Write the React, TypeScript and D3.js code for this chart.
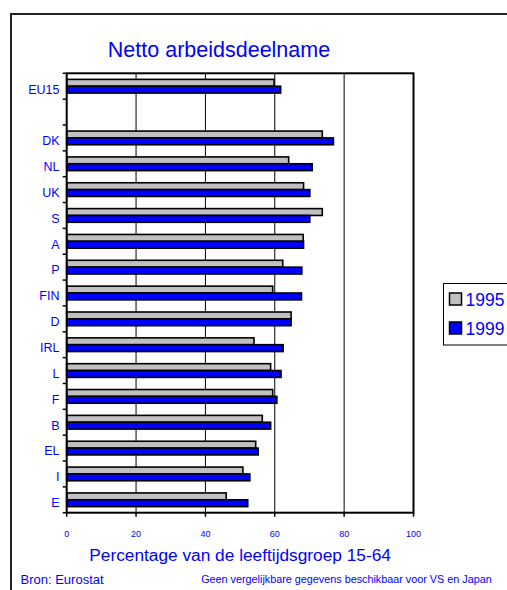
import React, { useRef, useEffect } from "react";
import * as d3 from "d3";

const categories = ["EU15", "", "DK", "NL", "UK", "S", "A", "P", "FIN", "D", "IRL", "L", "F", "B", "EL", "I", "E"];
const values1995 = [59.8, null, 73.7, 64.0, 68.3, 73.7, 68.2, 62.3, 59.4, 64.7, 54.0, 58.8, 59.4, 56.4, 54.5, 50.8, 46.0];
const values1999 = [61.7, null, 76.9, 70.8, 70.1, 70.1, 68.3, 67.8, 67.7, 64.7, 62.4, 61.8, 60.6, 58.8, 55.2, 52.8, 52.2];
const seriesNames = ["1995", "1999"];
const seriesColors = ["#c0c0c0", "#0000ff"];
const xTicks = [0, 20, 40, 60, 80, 100];

export default function App() {
  const svgRef = useRef<SVGSVGElement>(null);

  useEffect(() => {
    if (!svgRef.current) return;
    const svg = d3.select(svgRef.current);
    svg.selectAll("*").remove();

    const width = 507;
    const height = 590;
    const plot = { left: 66.7, right: 413.5, top: 73.3, bottom: 512.7 };
    const font = "'Liberation Sans', Arial, sans-serif";
    const blue = "#0000ff";

    svg.append("rect").attr("width", width).attr("height", height).attr("fill", "#fff");

    // outer chart frame, runs past the window edge
    svg.append("rect")
      .attr("x", 11).attr("y", 14)
      .attr("width", 600).attr("height", 600)
      .attr("fill", "none").attr("stroke", "#222").attr("stroke-width", 2);

    const x = d3.scaleLinear().domain([0, 100]).range([plot.left, plot.right]);
    const y = d3.scaleBand<string>()
      .domain(categories)
      .range([plot.top, plot.bottom])
      .paddingInner(0.47)
      .paddingOuter(0.235);
    const ys = d3.scaleBand<string>().domain(seriesNames).range([0, y.bandwidth()]);

    // gridlines
    svg.append("g").selectAll("line")
      .data(xTicks.slice(1, -1))
      .enter().append("line")
      .attr("x1", d => x(d)).attr("x2", d => x(d))
      .attr("y1", plot.top).attr("y2", plot.bottom)
      .attr("stroke", "#000").attr("stroke-width", 1);

    // bars
    const series = [values1995, values1999];
    const bars = svg.append("g");
    categories.forEach((cat, i) => {
      series.forEach((vals, s) => {
        const v = vals[i];
        if (v == null) return;
        bars.append("rect")
          .attr("x", x(0))
          .attr("y", (y(cat) as number) + (ys(seriesNames[s]) as number))
          .attr("width", x(v) - x(0))
          .attr("height", ys.bandwidth())
          .attr("fill", seriesColors[s])
          .attr("stroke", "#000")
          .attr("stroke-width", 1.6);
      });
    });

    // plot border
    svg.append("rect")
      .attr("x", plot.left).attr("y", plot.top)
      .attr("width", plot.right - plot.left).attr("height", plot.bottom - plot.top)
      .attr("fill", "none").attr("stroke", "#000").attr("stroke-width", 2);

    // y tick marks at category boundaries
    svg.append("g").selectAll("line")
      .data(d3.range(categories.length + 1))
      .enter().append("line")
      .attr("x1", plot.left - 4).attr("x2", plot.left)
      .attr("y1", d => plot.top + d * y.step())
      .attr("y2", d => plot.top + d * y.step())
      .attr("stroke", "#000").attr("stroke-width", 1.5);

    // x tick marks
    svg.append("g").selectAll("line")
      .data(xTicks)
      .enter().append("line")
      .attr("x1", d => x(d)).attr("x2", d => x(d))
      .attr("y1", plot.bottom).attr("y2", plot.bottom + 4)
      .attr("stroke", "#000").attr("stroke-width", 1.5);

    // x tick labels
    svg.append("g").selectAll("text")
      .data(xTicks)
      .enter().append("text")
      .attr("x", d => x(d)).attr("y", 537.3)
      .attr("text-anchor", "middle")
      .attr("font-family", font).attr("font-size", 9)
      .attr("fill", blue)
      .text(d => d);

    // category labels
    svg.append("g").selectAll("text")
      .data(categories)
      .enter().append("text")
      .attr("x", 59.5)
      .attr("y", d => (y(d) as number) + y.bandwidth() / 2 + 7.3)
      .attr("text-anchor", "end")
      .attr("font-family", font).attr("font-size", 12.5)
      .attr("fill", blue)
      .text(d => d);

    // titles
    svg.append("text")
      .attr("x", 219).attr("y", 57.3)
      .attr("text-anchor", "middle")
      .attr("font-family", font).attr("font-size", 21.5)
      .attr("fill", blue)
      .text("Netto arbeidsdeelname");

    svg.append("text")
      .attr("x", (plot.left + plot.right) / 2).attr("y", 560.7)
      .attr("text-anchor", "middle")
      .attr("font-family", font).attr("font-size", 17.3)
      .attr("fill", blue)
      .text("Percentage van de leeftijdsgroep 15-64");

    svg.append("text")
      .attr("x", 20.5).attr("y", 583.5)
      .attr("font-family", font).attr("font-size", 13)
      .attr("fill", blue)
      .text("Bron: Eurostat");

    svg.append("text")
      .attr("x", 491.7).attr("y", 582.7)
      .attr("text-anchor", "end")
      .attr("font-family", font).attr("font-size", 10.8)
      .attr("fill", blue)
      .text("Geen vergelijkbare gegevens beschikbaar voor VS en Japan");

    // legend
    const legend = svg.append("g");
    legend.append("rect")
      .attr("x", 443.5).attr("y", 283.5)
      .attr("width", 100).attr("height", 61.5)
      .attr("fill", "#fff").attr("stroke", "#000").attr("stroke-width", 1);
    seriesNames.forEach((name, s) => {
      legend.append("rect")
        .attr("x", 449.5).attr("y", 293 + s * 29)
        .attr("width", 12).attr("height", 12)
        .attr("fill", seriesColors[s])
        .attr("stroke", "#000").attr("stroke-width", 1.5);
      legend.append("text")
        .attr("x", 465.5).attr("y", 306 + s * 28.5)
        .attr("font-family", font).attr("font-size", 17.5)
        .attr("fill", blue)
        .text(name);
    });
  }, []);

  return (
    <svg
      ref={svgRef}
      width={507}
      height={590}
      style={{ position: "absolute", left: 0, top: 0 }}
    />
  );
}
